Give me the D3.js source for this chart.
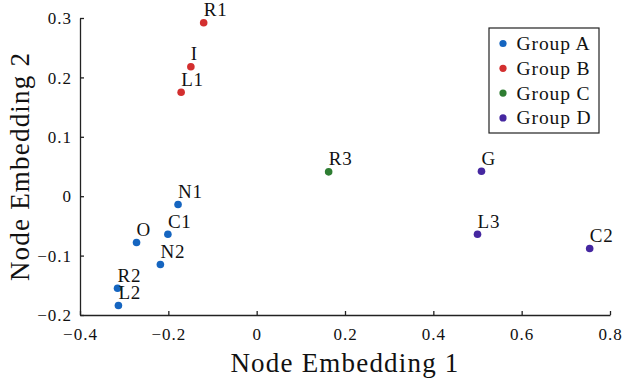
<!DOCTYPE html>
<html>
<head>
<meta charset="utf-8">
<script src="https://cdn.jsdelivr.net/npm/d3@7"></script>
<style>
  body { margin: 0; background: #fff; }
  svg text { font-family: "Liberation Serif", "DejaVu Serif", serif; }
</style>
</head>
<body>
<div id="chart"></div>
<script>
// node names, 2d embedding coords, group
const nodes = ['R1', 'I', 'L1', 'N1', 'C1', 'O', 'N2', 'R2', 'L2', 'R3', 'G', 'L3', 'C2'];
const emb1 = [-0.120, -0.149, -0.171, -0.178, -0.201, -0.272, -0.218, -0.315, -0.313, 0.163, 0.509, 0.500, 0.754];
const emb2 = [0.292, 0.218, 0.175, -0.014, -0.064, -0.078, -0.115, -0.155, -0.184, 0.041, 0.042, -0.064, -0.088];
const groupOf = ['B', 'B', 'B', 'A', 'A', 'A', 'A', 'A', 'A', 'C', 'D', 'D', 'D'];

const groups = ['A', 'B', 'C', 'D'];
const groupColors = ['#1565c0', '#d32f2f', '#2e7d32', '#4527a0'];

const xTicks = [-0.4, -0.2, 0, 0.2, 0.4, 0.6, 0.8];
const yTicks = [-0.2, -0.1, 0, 0.1, 0.2, 0.3];

const W = 623, H = 384;
const margin = { top: 18, right: 13, bottom: 69, left: 80 };
const width = W - margin.left - margin.right;
const height = H - margin.top - margin.bottom;

const svg = d3.select('#chart').append('svg')
    .attr('width', W)
    .attr('height', H);

const g = svg.append('g')
    .attr('transform', `translate(${margin.left},${margin.top})`);

const x = d3.scaleLinear().domain([-0.4, 0.8]).range([0, width]);
const y = d3.scaleLinear().domain([-0.2, 0.3]).range([height, 0]);
const color = d3.scaleOrdinal().domain(groups).range(groupColors);

const fmt = d => d === 0 ? '0' : d3.format('.1f')(d);

// axes, ticks point inward
const xAxis = g.append('g')
    .attr('transform', `translate(0,${height})`)
    .call(d3.axisBottom(x).tickValues(xTicks).tickSizeInner(-4).tickSizeOuter(0).tickFormat(fmt));
const yAxis = g.append('g')
    .call(d3.axisLeft(y).tickValues(yTicks).tickSizeInner(-4).tickSizeOuter(0).tickPadding(8).tickFormat(fmt));

[xAxis, yAxis].forEach(a => {
    a.attr('font-family', null).attr('font-size', null);
    a.select('.domain').attr('stroke', '#222').attr('stroke-width', 1.3);
    a.selectAll('.tick line').attr('stroke', '#222').attr('stroke-width', 1.3);
    a.selectAll('.tick text')
        .attr('fill', '#111')
        .style('font-size', '17px')
        .style('letter-spacing', '1px');
});
xAxis.selectAll('.tick text').attr('y', 24.5).attr('dy', 0);
yAxis.selectAll('.tick text').attr('dy', '0.34em');

// axis titles
svg.append('text')
    .attr('x', margin.left + width / 2)
    .attr('y', 372)
    .attr('text-anchor', 'middle')
    .style('font-size', '27px')
    .style('letter-spacing', '1.2px')
    .attr('fill', '#111')
    .text('Node Embedding 1');

svg.append('text')
    .attr('transform', `translate(29,${margin.top + height / 2}) rotate(-90)`)
    .attr('text-anchor', 'middle')
    .style('font-size', '27px')
    .style('letter-spacing', '1.2px')
    .attr('fill', '#111')
    .text('Node Embedding 2');

// points
const pts = nodes.map((n, i) => ({ name: n, e1: emb1[i], e2: emb2[i], grp: groupOf[i] }));

g.selectAll('circle.pt')
    .data(pts)
    .enter()
    .append('circle')
    .attr('class', 'pt')
    .attr('cx', d => x(d.e1))
    .attr('cy', d => y(d.e2))
    .attr('r', 3.8)
    .attr('fill', d => color(d.grp));

g.selectAll('text.lbl')
    .data(pts)
    .enter()
    .append('text')
    .attr('class', 'lbl')
    .attr('x', d => x(d.e1))
    .attr('y', d => y(d.e2) - 6.7)
    .style('font-size', '19px')
    .style('letter-spacing', '0.8px')
    .attr('fill', '#111')
    .text(d => d.name);

// legend
const legend = svg.append('g').attr('transform', 'translate(489,28)');
legend.append('rect')
    .attr('width', 110)
    .attr('height', 105)
    .attr('fill', '#fff')
    .attr('stroke', '#222')
    .attr('stroke-width', 1.2);

const rows = legend.selectAll('g.row')
    .data(groups)
    .enter()
    .append('g')
    .attr('class', 'row')
    .attr('transform', (d, i) => `translate(0,${15.5 + i * 24.8})`);
rows.append('circle')
    .attr('cx', 14)
    .attr('r', 3.6)
    .attr('fill', d => color(d));
rows.append('text')
    .attr('x', 27.5)
    .attr('dy', '0.33em')
    .style('font-size', '19.5px')
    .style('letter-spacing', '0.9px')
    .attr('fill', '#111')
    .text(d => 'Group ' + d);
</script>
</body>
</html>
